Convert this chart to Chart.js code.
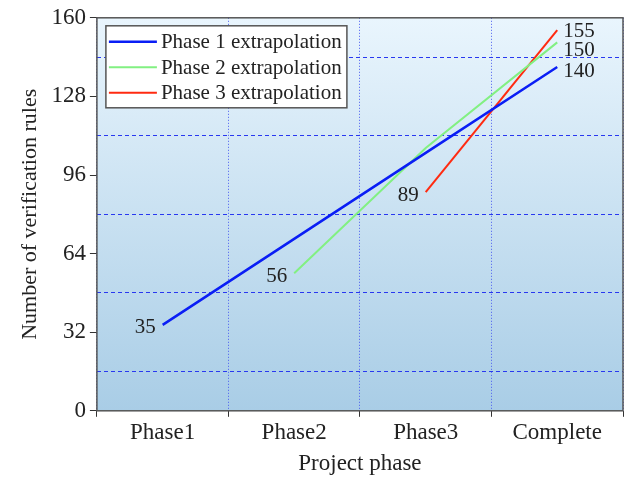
<!DOCTYPE html>
<html>
<head>
<meta charset="utf-8">
<script src="https://cdn.jsdelivr.net/npm/chart.js@4.4.1/dist/chart.umd.min.js"></script>
<style>
  html, body { margin: 0; padding: 0; background: #fff; }
  #wrap { width: 633px; height: 478px; }
</style>
</head>
<body>
<div id="wrap"><canvas id="chart"></canvas></div>
<script>
const categories = ["Phase1", "Phase2", "Phase3", "Complete"];
const phase1 = [35, 70, 105, 140];
const phase2 = [null, 56, 107, 150];
const phase3 = [null, null, 89, 155];
const seriesNames = ["Phase 1 extrapolation", "Phase 2 extrapolation", "Phase 3 extrapolation"];
const seriesColors = ["#0a1ef5", "#82f082", "#ff2a10"];

const FONT = "'Liberation Serif', 'Times New Roman', serif";

// gradient behind the plot area
const plotBackground = {
  id: "plotBackground",
  beforeDraw(chart) {
    const { ctx, chartArea: a } = chart;
    const g = ctx.createLinearGradient(0, a.top, 0, a.bottom);
    g.addColorStop(0, "#e9f5fd");
    g.addColorStop(1, "#a9cde6");
    ctx.save();
    ctx.fillStyle = g;
    ctx.fillRect(a.left, a.top, a.right - a.left, a.bottom - a.top);
    ctx.restore();
  },
  afterDraw(chart) {
    const { ctx, chartArea: a } = chart;
    ctx.save();
    ctx.strokeStyle = "#555";
    ctx.lineWidth = 1.5;
    ctx.strokeRect(a.left, a.top, a.right - a.left, a.bottom - a.top);
    ctx.restore();
  }
};

// first / last value labels for each line
const endLabels = {
  id: "endLabels",
  afterDatasetsDraw(chart) {
    const { ctx } = chart;
    ctx.save();
    ctx.font = "21px " + FONT;
    ctx.fillStyle = "#222";
    ctx.textBaseline = "middle";
    const ends = [];
    chart.data.datasets.forEach((ds, i) => {
      const meta = chart.getDatasetMeta(i);
      const idx = ds.data.map((v, k) => v == null ? -1 : k).filter(k => k >= 0);
      const first = meta.data[idx[0]];
      const last = meta.data[idx[idx.length - 1]];
      ctx.textAlign = "right";
      ctx.fillText(String(ds.data[idx[0]]), first.x - 7, first.y + 3);
      ends.push({ text: String(ds.data[idx[idx.length - 1]]), x: last.x, y: last.y });
    });
    // keep the end labels from overlapping
    ends.sort((p, q) => p.y - q.y);
    let prev = -Infinity;
    ctx.textAlign = "left";
    ends.forEach((e, k) => {
      let y = k === 0 ? e.y + 1 : e.y + 5;
      if (y < prev + 19) y = prev + 19;
      ctx.fillText(e.text, e.x + 6, y);
      prev = y;
    });
    ctx.restore();
  }
};

// legend box inside the plot, top left
const boxLegend = {
  id: "boxLegend",
  afterDraw(chart) {
    const { ctx, chartArea: a } = chart;
    const x = a.left + 9, y = a.top + 8, w = 241, h = 82;
    ctx.save();
    ctx.fillStyle = "#fff";
    ctx.fillRect(x, y, w, h);
    ctx.strokeStyle = "#555";
    ctx.lineWidth = 1.5;
    ctx.strokeRect(x, y, w, h);
    ctx.font = "21px " + FONT;
    ctx.textBaseline = "middle";
    ctx.textAlign = "left";
    chart.data.datasets.forEach((ds, i) => {
      const ry = y + 16 + i * 25.5;
      ctx.strokeStyle = ds.borderColor;
      ctx.lineWidth = ds.borderWidth;
      ctx.beginPath();
      ctx.moveTo(x + 3, ry);
      ctx.lineTo(x + 51, ry);
      ctx.stroke();
      ctx.fillStyle = "#222";
      ctx.fillText(ds.label, x + 55, ry + 1);
    });
    ctx.restore();
  }
};

new Chart(document.getElementById("chart"), {
  type: "line",
  data: {
    labels: categories,
    datasets: [
      { label: seriesNames[0], data: phase1, borderColor: seriesColors[0], borderWidth: 2.5 },
      { label: seriesNames[1], data: phase2, borderColor: seriesColors[1], borderWidth: 2 },
      { label: seriesNames[2], data: phase3, borderColor: seriesColors[2], borderWidth: 2 }
    ]
  },
  options: {
    responsive: true,
    maintainAspectRatio: false,
    animation: false,
    layout: { padding: { top: 9, right: 10, left: 17, bottom: 0 } },
    elements: {
      point: { radius: 0, hoverRadius: 0 },
      line: { tension: 0, fill: false }
    },
    scales: {
      x: {
        offset: true,
        grid: {
          offset: true,
          color: "#4a5cf0",
          lineWidth: 1,
          tickColor: "#333",
          tickLength: 6,
          drawOnChartArea: true
        },
        border: { display: false, dash: [1, 2] },
        ticks: { color: "#222", font: { family: FONT, size: 23 }, padding: 2 },
        title: { display: true, text: "Project phase", color: "#222", font: { family: FONT, size: 23 }, padding: { top: 2, bottom: 0 } }
      },
      y: {
        min: 0,
        max: 160,
        ticks: {
          stepSize: 16,
          color: "#222",
          font: { family: FONT, size: 23 },
          padding: 4,
          callback: (v) => (v % 32 === 0 ? v : "")
        },
        grid: {
          color: (c) => (c.tick && c.tick.value % 32 !== 0 ? "#2838f0" : "rgba(0,0,0,0)"),
          tickColor: (c) => (c.tick && c.tick.value % 32 === 0 ? "#333" : "rgba(0,0,0,0)"),
          tickLength: 7,
          lineWidth: 1
        },
        border: { display: false, dash: [4, 3] },
        title: { display: true, text: "Number of verification rules", color: "#222", font: { family: FONT, size: 22 }, padding: { top: 0, bottom: 4 } }
      }
    },
    plugins: {
      legend: { display: false },
      tooltip: { enabled: false }
    }
  },
  plugins: [plotBackground, endLabels, boxLegend]
});
</script>
</body>
</html>
